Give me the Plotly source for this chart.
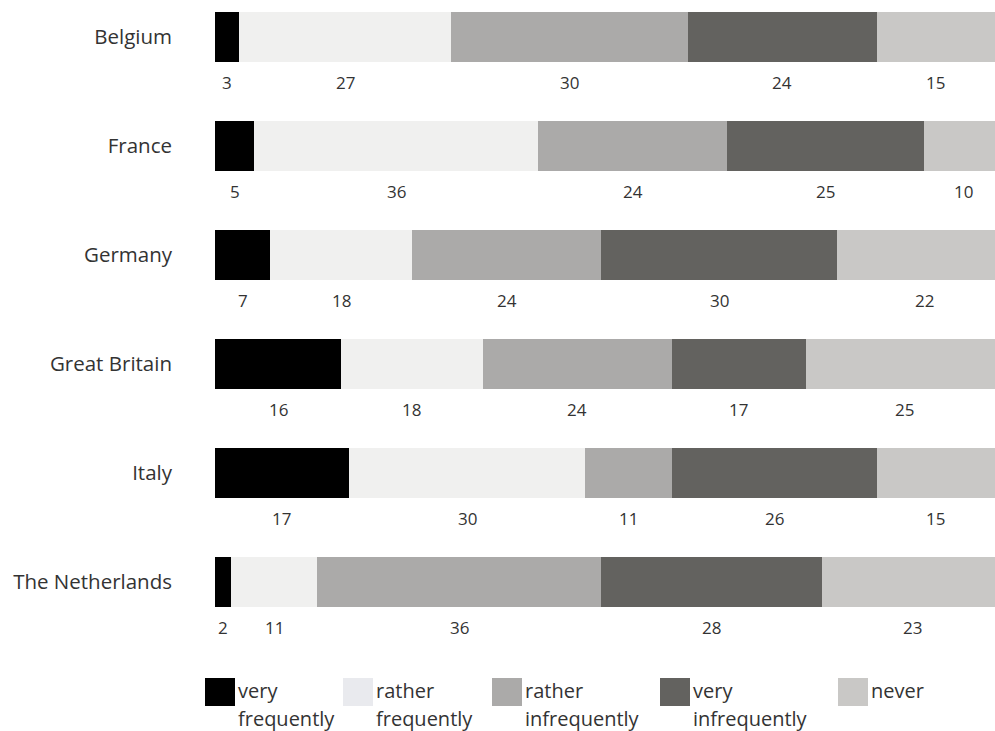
import plotly.graph_objects as go

countries = ["Belgium", "France", "Germany", "Great Britain", "Italy", "The Netherlands"]
categories = ["very frequently", "rather frequently", "rather infrequently", "very infrequently", "never"]
very_frequently = [3, 5, 7, 16, 17, 2]
rather_frequently = [27, 36, 18, 18, 30, 11]
rather_infrequently = [30, 24, 24, 24, 11, 36]
very_infrequently = [24, 25, 30, 17, 26, 28]
never = [15, 10, 22, 25, 15, 23]
colors = ["#000000", "#f0f0ef", "#abaaa9", "#63625f", "#c9c8c6"]
legend_colors = ["#000000", "#e9eaee", "#abaaa9", "#63625f", "#c9c8c6"]

series = [very_frequently, rather_frequently, rather_infrequently, very_infrequently, never]

W, H = 995, 731
ML, MR, MT, MB = 215, 0, 0, 81
PW, PH = W - ML - MR, H - MT - MB
FONT = "Open Sans"
TXT = "#333333"

ypos = list(range(len(countries)))

fig = go.Figure()
for name, vals, col in zip(categories, series, colors):
    fig.add_trace(go.Bar(
        orientation="h", y=ypos, x=vals, name=name, width=0.46,
        marker=dict(color=col, line=dict(width=0)), showlegend=False,
        hoverinfo="x+name",
    ))

annotations = []
for i in range(len(countries)):
    cum = 0
    for vals in series:
        v = vals[i]
        annotations.append(dict(
            x=cum + v / 2, y=ypos[i], xref="x", yref="y", text=str(v),
            showarrow=False, yshift=-45, font=dict(family=FONT, size=17, color=TXT),
        ))
        cum += v

def px2x(px):
    return (px - ML) / PW

def py2y(py):
    return (H - MB - py) / PH

shapes = []
sq_left = [205, 343, 492, 660, 838]
for k, (name, col) in enumerate(zip(categories, legend_colors)):
    x0 = sq_left[k]
    shapes.append(dict(type="rect", xref="paper", yref="paper",
                       x0=px2x(x0), x1=px2x(x0 + 30), y0=py2y(706), y1=py2y(678),
                       fillcolor=col, line=dict(width=0)))
    parts = name.split(" ", 1)
    annotations.append(dict(x=px2x(x0 + 31), y=py2y(690), xref="paper", yref="paper",
                            text=parts[0], showarrow=False, xanchor="left", yanchor="middle",
                            font=dict(family=FONT, size=20, color=TXT)))
    if len(parts) > 1:
        annotations.append(dict(x=px2x(x0 + 31), y=py2y(719), xref="paper", yref="paper",
                                text=parts[1], showarrow=False, xanchor="left", yanchor="middle",
                                font=dict(family=FONT, size=20, color=TXT)))

row_px = 109
top_c = 37
fig.update_layout(
    width=W, height=H, barmode="stack",
    margin=dict(l=ML, r=MR, t=MT, b=MB),
    paper_bgcolor="white", plot_bgcolor="white",
    xaxis=dict(range=[0, 99], visible=False, fixedrange=True),
    yaxis=dict(range=[(PH - top_c) / row_px, -top_c / row_px], tickvals=ypos, ticktext=countries,
               showgrid=False, zeroline=False, showline=False, ticks="",
               ticklabelstandoff=42, tickfont=dict(family=FONT, size=20.5, color=TXT)),
    annotations=annotations, shapes=shapes,
    font=dict(family=FONT, color=TXT),
)

fig.write_html("out.html")
